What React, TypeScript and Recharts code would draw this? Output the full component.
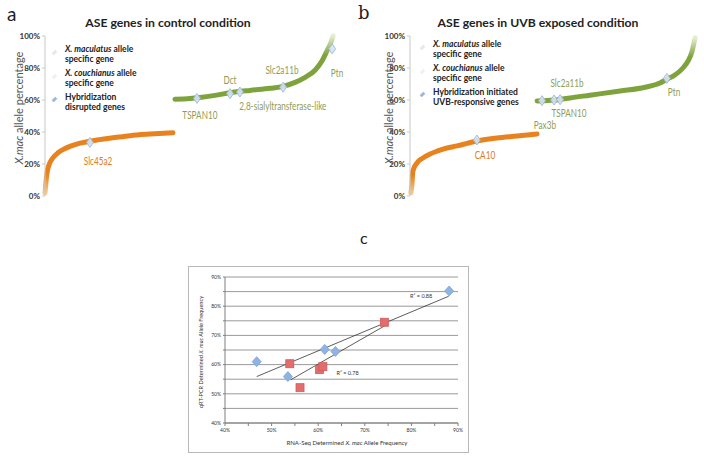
import React from 'react';
import {
  ComposedChart, Line, Scatter, XAxis, YAxis, CartesianGrid, ScatterChart,
} from 'recharts';

// gene rank (percentile along the sorted list) vs X.mac allele percentage
const controlMacCurve = [
  { rank: 0, pct: 2 }, { rank: 0.3, pct: 8 }, { rank: 0.7, pct: 14.5 }, { rank: 1.4, pct: 19.5 },
  { rank: 2.8, pct: 24 }, { rank: 4.5, pct: 27 }, { rank: 6.2, pct: 29 }, { rank: 8.6, pct: 31 },
  { rank: 12.1, pct: 33 }, { rank: 17.9, pct: 35 }, { rank: 24.1, pct: 36.5 }, { rank: 29.3, pct: 37.7 },
  { rank: 36.2, pct: 38.7 }, { rank: 44.1, pct: 39.6 },
];
const controlCouCurve = [
  { rank: 44.8, pct: 60.5 }, { rank: 50, pct: 61 }, { rank: 53.4, pct: 61.6 }, { rank: 58.6, pct: 62.9 },
  { rank: 63.8, pct: 64.5 }, { rank: 70.7, pct: 66 }, { rank: 77.6, pct: 67.3 }, { rank: 82.1, pct: 68.5 },
  { rank: 86.2, pct: 71 }, { rank: 89.7, pct: 74.2 }, { rank: 93.1, pct: 78.6 }, { rank: 95.5, pct: 84.3 },
  { rank: 97.2, pct: 90.6 }, { rank: 98.6, pct: 96 }, { rank: 99.3, pct: 100 },
];
const controlMarked = [
  { rank: 15.5, pct: 33.5 }, { rank: 52.4, pct: 61 }, { rank: 63.8, pct: 64 },
  { rank: 67.2, pct: 65 }, { rank: 82.1, pct: 68 }, { rank: 99, pct: 92 },
];
const controlGeneLabels = [
  { rank: 18.3, pct: 21, text: 'Slc45a2', side: 'mac' },
  { rank: 53.4, pct: 49.7, text: 'TSPAN10', side: 'cou' },
  { rank: 63.8, pct: 71.7, text: 'Dct', side: 'cou' },
  { rank: 81.7, pct: 78, text: 'Slc2a11b', side: 'cou' },
  { rank: 100.7, pct: 76, text: 'Ptn', side: 'cou' },
  { rank: 82, pct: 55.3, text: '2,8-sialyltransferase-like', side: 'cou' },
];

const uvbMacCurve = [
  { rank: 0.3, pct: 2 }, { rank: 0.7, pct: 7.5 }, { rank: 1, pct: 15.6 }, { rank: 2.4, pct: 20.6 },
  { rank: 4.5, pct: 23.8 }, { rank: 7, pct: 26.3 }, { rank: 9.4, pct: 28 }, { rank: 12.9, pct: 30 },
  { rank: 16.4, pct: 31.3 }, { rank: 23.3, pct: 34.4 }, { rank: 30.3, pct: 36.3 }, { rank: 37.3, pct: 37.5 },
  { rank: 44.3, pct: 38.8 },
];
const uvbCouCurve = [
  { rank: 44.3, pct: 59.4 }, { rank: 52.3, pct: 60.3 }, { rank: 55.7, pct: 61.3 }, { rank: 62.7, pct: 63 },
  { rank: 73.2, pct: 65.6 }, { rank: 81.9, pct: 68 }, { rank: 87.1, pct: 70.6 }, { rank: 89.5, pct: 73 },
  { rank: 92.3, pct: 75.6 }, { rank: 95.1, pct: 80 }, { rank: 96.9, pct: 84.4 }, { rank: 98.3, pct: 90.6 },
  { rank: 99.3, pct: 98.8 },
];
const uvbMarked = [
  { rank: 23.3, pct: 35 }, { rank: 46, pct: 59.6 }, { rank: 50.2, pct: 60 },
  { rank: 52.3, pct: 60.2 }, { rank: 89.5, pct: 73.5 },
];
const uvbGeneLabels = [
  { rank: 26.1, pct: 25, text: 'CA10', side: 'mac' },
  { rank: 47, pct: 43.8, text: 'Pax3b', side: 'cou' },
  { rank: 55.4, pct: 51.3, text: 'TSPAN10', side: 'cou' },
  { rank: 54.7, pct: 70, text: 'Slc2a11b', side: 'cou' },
  { rank: 92, pct: 64.4, text: 'Ptn', side: 'cou' },
];

const pctTicks = [0, 20, 40, 60, 80, 100];

// panel c: RNA-Seq vs qRT-PCR X.mac allele frequency (%)
const blueGenes = [
  { x: 46.8, y: 61 }, { x: 53.5, y: 55.9 }, { x: 61.4, y: 65.2 }, { x: 63.7, y: 64.5 }, { x: 88.1, y: 85.2 },
];
const redGenes = [
  { x: 53.9, y: 60.3 }, { x: 56.1, y: 52.1 }, { x: 60.3, y: 58.3 }, { x: 61, y: 59.3 }, { x: 74.2, y: 74.5 },
];
const blueTrend = [{ x: 46.8, y: 55.9 }, { x: 88, y: 83.4 }];
const redTrend = [{ x: 54.1, y: 54.8 }, { x: 74.4, y: 73.4 }];
const rSquaredLabels = [
  { x: 82.1, y: 83.4, text: 'R² = 0.88' },
  { x: 66.3, y: 56.9, text: 'R² = 0.78' },
];
const freqTicks = [40, 45, 50, 55, 60, 65, 70, 75, 80, 85, 90];

const ORANGE = '#e8821e';
const GREEN = '#7fa33c';
const FONT = 'Lato, "Open Sans", sans-serif';

const Diamond = ({ cx, cy }: any) => (
  <polygon
    points={`${cx},${cy - 5} ${cx + 3.5},${cy} ${cx},${cy + 5} ${cx - 3.5},${cy}`}
    fill="#d7e3f2" stroke="#9cb8dc" strokeWidth={1} opacity={0.9}
  />
);

// gene names are set in a narrow face in the original, so squeeze them a bit
const GeneText = ({ cx, cy, payload }: any) => (
  <g transform={`translate(${cx},${cy}) scale(0.78,1)`}>
    <text x={0} y={0} textAnchor="middle" dominantBaseline="middle" fontFamily={FONT}
      fontSize={10.5} fill={payload.side === 'mac' ? '#e07a2a' : '#8f9c58'}>
      {payload.text}
    </text>
  </g>
);

const SmallText = ({ cx, cy, payload }: any) => (
  <text x={cx} y={cy} textAnchor="middle" dominantBaseline="middle" fontFamily={FONT}
    fontSize={5.5} fill="#333">
    {payload.text}
  </text>
);

const BlueDiamond = ({ cx, cy }: any) => (
  <polygon
    points={`${cx},${cy - 5} ${cx + 4.5},${cy} ${cx},${cy + 5} ${cx - 4.5},${cy}`}
    fill="#8eb4e3" stroke="#7aa2d4" strokeWidth={0.8}
  />
);

const RedSquare = ({ cx, cy }: any) => (
  <rect x={cx - 4} y={cy - 4} width={8} height={8} fill="#e36c6c" stroke="#d25a5a" strokeWidth={0.8} />
);

const NoDot = () => <g />;

const Abs = ({ x, y, children, style }: any) => (
  <div style={{ position: 'absolute', left: x, top: y, whiteSpace: 'nowrap', ...style }}>{children}</div>
);

const VLabel = ({ cx, cy, children, style }: any) => (
  <div style={{
    position: 'absolute', left: cx, top: cy, whiteSpace: 'nowrap',
    transform: 'translate(-50%, -50%) rotate(-90deg)', ...style,
  }}>{children}</div>
);

const LegendBlock = ({ x, y, lastLine1, lastLine2 }: any) => {
  const txt = { fontFamily: FONT, fontSize: 8.5, fontWeight: 700, color: '#222', lineHeight: '10px' };
  const mark = (top: number, color: string) => (
    <div style={{ position: 'absolute', left: -12, top, width: 3, height: 5, background: color, transform: 'rotate(45deg)' }} />
  );
  return (
    <div style={{ position: 'absolute', left: x, top: y, ...txt }}>
      {mark(6, '#e6e6ee')}
      <div><i>X. maculatus</i> allele</div>
      <div>specific gene</div>
      {mark(30, '#f0f0f4')}
      <div style={{ marginTop: 4 }}><i>X. couchianus</i> allele</div>
      <div>specific gene</div>
      {mark(53, '#9cb8dc')}
      <div style={{ marginTop: 4 }}>{lastLine1}</div>
      <div>{lastLine2}</div>
    </div>
  );
};

const CurvePanel = ({ id, mac, cou, marked, labels, yAxisWidth, marginRight, rankMax }: any) => (
  <ComposedChart width={352} height={210} margin={{ top: 36, right: marginRight, bottom: 14, left: 0 }}>
    <defs>
      <linearGradient id={`cou-${id}`} x1="0" y1="0" x2="0" y2="1">
        <stop offset="0" stopColor="#e4edd0" />
        <stop offset="0.3" stopColor={GREEN} />
        <stop offset="1" stopColor={GREEN} />
      </linearGradient>
      <linearGradient id={`mac-${id}`} x1="0" y1="0" x2="0" y2="1">
        <stop offset="0" stopColor={ORANGE} />
        <stop offset="0.7" stopColor={ORANGE} />
        <stop offset="1" stopColor="#f3c98a" />
      </linearGradient>
    </defs>
    <XAxis type="number" dataKey="rank" domain={[0, rankMax]} hide />
    <YAxis
      type="number" dataKey="pct" domain={[0, 100]} ticks={pctTicks} width={yAxisWidth}
      tickFormatter={(v: number) => `${v}%`}
      tick={{ fill: '#333', fontSize: 8, fontWeight: 700, fontFamily: FONT }}
      axisLine={{ stroke: '#c8c8c8' }} tickLine={{ stroke: '#c8c8c8' }} tickSize={3}
    />
    <Line data={mac} dataKey="pct" type="monotone" stroke={`url(#mac-${id})`} strokeWidth={5}
      strokeLinecap="round" dot={false} isAnimationActive={false} />
    <Line data={cou} dataKey="pct" type="monotone" stroke={`url(#cou-${id})`} strokeWidth={5}
      strokeLinecap="round" dot={false} isAnimationActive={false} />
    <Scatter data={marked} shape={<Diamond />} isAnimationActive={false} />
    <Scatter data={labels} shape={<GeneText />} isAnimationActive={false} />
  </ComposedChart>
);

const App = () => {
  const title = { fontFamily: FONT, fontSize: 12.2, fontWeight: 700, color: '#222' };
  const yTitle = { fontFamily: FONT, fontSize: 11, color: '#555' };
  return (
    <div style={{ position: 'absolute', left: 0, top: 0, width: 704, height: 457, background: '#fff', overflow: 'hidden' }}>
      {/* panel a */}
      <div style={{ position: 'absolute', left: 0, top: 0 }}>
        <CurvePanel id="a" mac={controlMacCurve} cou={controlCouCurve} marked={controlMarked}
          labels={controlGeneLabels} yAxisWidth={45} marginRight={10} rankMax={102.4} />
      </div>
      <Abs x={7} y={2} style={{ fontFamily: FONT, fontSize: 19, color: '#222' }}>a</Abs>
      <Abs x={168} y={15} style={{ ...title, transform: 'translateX(-50%)' }}>ASE genes in control condition</Abs>
      <VLabel cx={18} cy={108} style={yTitle}><i>X.mac</i> allele percentage</VLabel>
      <LegendBlock x={65} y={44} lastLine1="Hybridization" lastLine2="disrupted genes" />

      {/* panel b */}
      <div style={{ position: 'absolute', left: 352, top: 0 }}>
        <CurvePanel id="b" mac={uvbMacCurve} cou={uvbCouCurve} marked={uvbMarked}
          labels={uvbGeneLabels} yAxisWidth={58} marginRight={7} rankMax={100} />
      </div>
      <Abs x={358} y={2} style={{ fontFamily: 'DejaVu Serif, serif', fontSize: 18, color: '#222' }}>b</Abs>
      <Abs x={538} y={15} style={{ ...title, transform: 'translateX(-50%)' }}>ASE genes in UVB exposed condition</Abs>
      <VLabel cx={388} cy={108} style={yTitle}><i>X.mac</i> allele percentage</VLabel>
      <LegendBlock x={433} y={39} lastLine1="Hybridization initiated" lastLine2="UVB-responsive genes" />

      {/* panel c */}
      <Abs x={360} y={228} style={{ fontFamily: FONT, fontSize: 16, color: '#222' }}>c</Abs>
      <div style={{ position: 'absolute', left: 188, top: 266, width: 279, height: 185, border: '1px solid #b8b8b8' }}>
        <ScatterChart width={279} height={185} margin={{ top: 10, right: 10, bottom: 13, left: 12 }}>
          <CartesianGrid vertical={false} stroke="#7f7f7f" strokeWidth={0.8} />
          <XAxis type="number" dataKey="x" domain={[40, 90]} ticks={freqTicks} height={16}
            tickFormatter={(v: number) => (v % 10 === 0 ? `${v}%` : '')}
            tick={{ fill: '#333', fontSize: 5, fontFamily: FONT }} tickSize={3}
            axisLine={{ stroke: '#7f7f7f' }} tickLine={{ stroke: '#7f7f7f' }} />
          <YAxis type="number" dataKey="y" domain={[40, 90]} ticks={freqTicks} width={24}
            tickFormatter={(v: number) => (v % 10 === 0 ? `${v}%` : '')}
            tick={{ fill: '#333', fontSize: 5, fontFamily: FONT }} tickSize={2}
            axisLine={{ stroke: '#7f7f7f' }} tickLine={{ stroke: '#7f7f7f' }} />
          <Scatter data={blueTrend} line={{ stroke: '#333', strokeWidth: 0.8 }} shape={<NoDot />} isAnimationActive={false} />
          <Scatter data={redTrend} line={{ stroke: '#333', strokeWidth: 0.8 }} shape={<NoDot />} isAnimationActive={false} />
          <Scatter data={blueGenes} shape={<BlueDiamond />} isAnimationActive={false} />
          <Scatter data={redGenes} shape={<RedSquare />} isAnimationActive={false} />
          <Scatter data={rSquaredLabels} shape={<SmallText />} isAnimationActive={false} />
        </ScatterChart>
      </div>
      <VLabel cx={200} cy={352} style={{ fontFamily: FONT, fontSize: 5.6, color: '#333' }}>
        qRT-PCR Determined <i>X. mac</i> Allele Frequency
      </VLabel>
      <Abs x={347} y={439} style={{ fontFamily: FONT, fontSize: 6, color: '#333', transform: 'translateX(-50%)' }}>
        RNA-Seq Determined <i>X. mac</i> Allele Frequency
      </Abs>
    </div>
  );
};

export default App;
